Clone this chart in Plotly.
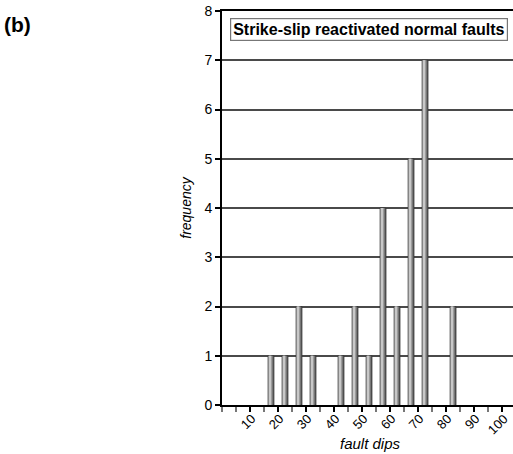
import plotly.graph_objects as go

# bin centres of fault-dip classes (5-degree bins) and counts
dip_bins = [17.5, 22.5, 27.5, 32.5, 42.5, 47.5, 52.5, 57.5, 62.5, 67.5, 72.5, 82.5]
frequency = [1, 1, 2, 1, 1, 2, 1, 4, 2, 5, 7, 2]
x_tick_vals = list(range(10, 101, 10))
x_tick_text = [str(v) for v in x_tick_vals]
y_tick_vals = list(range(0, 9))

FONT = "Liberation Sans, Arial, sans-serif"

fig = go.Figure()
# layered bars to mimic the shaded (cylindrical) bar look
layers = [
    (2.1, "#5c5c5c", "#333333", 0.8, 0.0),
    (1.6, "#828282", "rgba(0,0,0,0)", 0, -0.2),
    (1.1, "#a6a6a6", "rgba(0,0,0,0)", 0, -0.3),
    (0.6, "#c8c8c8", "rgba(0,0,0,0)", 0, -0.35),
]
for w, fill, lc, lw, shift in layers:
    fig.add_trace(go.Bar(
        x=dip_bins, y=frequency, width=w,
        offset=-w / 2 + shift,
        marker=dict(color=fill, line=dict(color=lc, width=lw)),
        hoverinfo="skip", showlegend=False,
    ))

# rotated x tick labels as annotations (anchored like the original)
tick_annots = [
    dict(text=t, x=v, xref="x", y=0, yref="paper",
         xanchor="right", yanchor="top", xshift=10, yshift=-5,
         textangle=-45, showarrow=False, borderpad=0,
         font=dict(size=13, family=FONT))
    for v, t in zip(x_tick_vals, x_tick_text)
]

fig.update_layout(
    width=513, height=454,
    margin=dict(l=222, r=0, t=11, b=49),
    barmode="overlay",
    plot_bgcolor="white", paper_bgcolor="white",
    font=dict(family=FONT, size=13, color="black"),
    xaxis=dict(
        range=[0, 103.9],
        tickvals=x_tick_vals, showticklabels=False,
        ticks="outside", ticklen=5, tickwidth=1.5, tickcolor="black",
        minor=dict(tickvals=list(range(0, 105, 5)), ticks="outside", ticklen=5,
                   tickwidth=1.5, tickcolor="#777777", showgrid=False),
        showline=True, linecolor="black", linewidth=2, mirror=True,
        showgrid=False, zeroline=False,
    ),
    yaxis=dict(
        range=[0, 8],
        tickvals=y_tick_vals,
        ticks="outside", ticklen=5, tickwidth=1.5, tickcolor="black",
        showline=True, linecolor="black", linewidth=2,
        showgrid=True, gridcolor="#4a4a4a", gridwidth=1.5,
        zeroline=False,
        tickfont=dict(size=14),
        title=dict(text="<i>frequency</i>", font=dict(size=14), standoff=10),
    ),
    annotations=tick_annots + [
        dict(text="<b>Strike-slip reactivated normal faults</b>",
             xref="paper", yref="paper", x=0.982, y=0.983,
             xanchor="right", yanchor="top", showarrow=False,
             font=dict(size=16, family=FONT),
             bordercolor="#777777", borderwidth=1.2, borderpad=2,
             bgcolor="white"),
        dict(text="<b>(b)</b>", xref="paper", yref="paper",
             x=-0.755, y=0.965, xanchor="left", yanchor="middle",
             showarrow=False, font=dict(size=21, family=FONT)),
        dict(text="<i>fault dips</i>", xref="paper", yref="paper",
             x=0.512, y=-0.098, xanchor="center", yanchor="middle",
             showarrow=False, font=dict(size=15, family=FONT)),
    ],
)

fig.write_html("out.html", config={"displayModeBar": False},
               post_script="document.body.style.margin='0';")
